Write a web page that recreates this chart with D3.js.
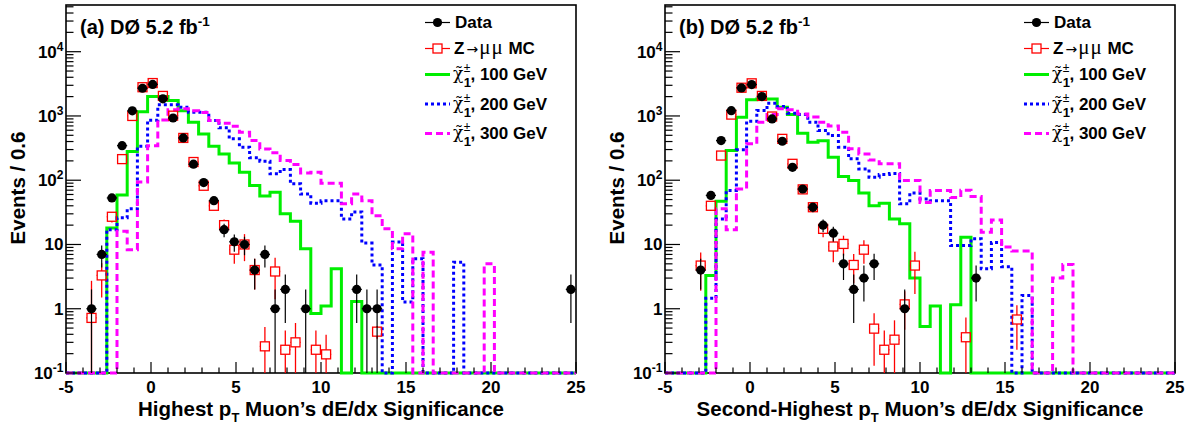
<!DOCTYPE html>
<html>
<head>
<meta charset="utf-8">
<script src="https://cdn.jsdelivr.net/npm/d3@7"></script>
<style>
  body { margin: 0; background: #fff; }
  text { font-family: "Liberation Sans", Arial, Helvetica, sans-serif; font-weight: bold; fill: #000; }
  tspan.sym, text.sym { font-family: "DejaVu Serif", "Liberation Serif", serif; font-weight: normal; }
</style>
</head>
<body>
<svg id="chart" width="1188" height="431"></svg>
<script>
// binning of both histograms
const xMin = -5, xMax = 25, binWidth = 0.6;
const yMin = 0.1, yMax = 53300;
const xTickValues = [-5, 0, 5, 10, 15, 20, 25];
const yDecades = [-1, 0, 1, 2, 3, 4];
const massLabels = ['100 GeV', '200 GeV', '300 GeV'];

// (a) highest pT muon -- signal histograms, 50 bins from -5
const greenA = [0, 0, 0, 0, 18, 59, 280, 1160, 2000, 2000,
  1740, 1200, 800, 525, 337, 257, 186, 133, 83, 57,
  65, 30, 23, 8.6, 0.84, 1.1, 4.2, 0, 1.3, 0,
  0, 0, 0, 0, 0, 0, 0, 0, 0, 0,
  0, 0, 0, 0, 0, 0, 0, 0, 0, 0];
const blueA = [0, 0, 0, 0, 17, 26, 36, 337, 860, 1490,
  1490, 1365, 1140, 1140, 850, 653, 440, 326, 223, 198,
  126, 147, 88, 61, 44, 48, 48, 25, 32, 10.5,
  4.8, 0, 10.9, 1.27, 6.0, 0, 0, 0, 5.3, 0,
  0, 0, 0, 0, 0, 0, 0, 0, 0, 0];
const magentaA = [0, 0, 0, 0, 0, 16, 8.3, 94, 345, 865,
  1250, 1290, 1200, 1130, 850, 770, 690, 558, 414, 307,
  268, 202, 175, 130, 133, 90, 90, 43, 61, 48,
  28, 17.5, 8.6, 14.7, 0, 7.6, 0, 0, 0, 0,
  0, 5.0, 0, 0, 0, 0, 0, 0, 0, 0];

// (a) data and Z->mumu MC points (bin centres)
const dataXa = [-3.5, -2.9, -2.3, -1.7, -1.1, -0.5, 0.1, 0.7, 1.3, 1.9, 2.5, 3.1, 3.7,
  4.3, 4.9, 5.5, 6.1, 6.7, 7.3, 7.9, 9.1, 12.1, 12.7, 13.3, 24.7];
const dataYa = [1, 7, 53, 345, 1200, 2700, 3100, 1850, 930, 455, 178, 92, 48,
  17, 11, 10, 4, 7, 1, 2, 1, 2, 1, 1, 2];
const dataEa = [1, 2.6, 7.3, 18.6, 34.6, 52, 55.7, 43, 30.5, 21.3, 13.3, 9.6, 6.9,
  4.1, 3.3, 3.2, 2, 2.6, 1, 1.4, 1, 1.4, 1, 1, 1.4];
const mcXa = [-3.5, -2.9, -2.3, -1.7, -1.1, -0.5, 0.1, 0.7, 1.3, 1.9, 2.5, 3.1, 3.7,
  4.3, 4.9, 5.5, 6.1, 6.7, 7.3, 7.9, 8.5, 9.7, 10.3, 13.3];
const mcYa = [0.72, 3.3, 27, 213, 1000, 2800, 3250, 2050, 1010, 455, 192, 82, 40,
  20, 8.3, 10, 4, 0.26, 3.8, 0.23, 0.30, 0.23, 0.195, 0.44];
const mcEa = [2.0, 1.8, 5, 14, 30, 50, 55, 45, 30, 20, 13, 9, 6,
  4.5, 3.3, 4.5, 2, 0.26, 2.4, 0.23, 0.3, 0.23, 0.2, 0.1];

// (b) second-highest pT muon -- signal histograms
const greenB = [0, 0, 0, 0, 3.3, 47, 290, 955, 1780, 1840,
  1840, 1365, 1050, 540, 390, 413, 228, 114, 99, 63,
  40, 44, 25, 21, 3.0, 0.53, 1.1, 0, 1.15, 13,
  0, 0, 0, 0, 0, 0, 0, 0, 0, 0,
  0, 0, 0, 0, 0, 0, 0, 0, 0, 0];
const blueB = [0, 0, 0, 0, 1.46, 25, 69, 297, 828, 1213,
  1577, 1400, 1100, 1050, 800, 593, 496, 326, 215, 150,
  111, 123, 127, 43, 63, 51, 48, 48, 9.6, 9.6,
  12.3, 4.2, 10.7, 4.5, 0, 1.6, 0, 0, 0, 0,
  0, 0, 0, 0, 0, 0, 0, 0, 0, 0];
const magentaB = [0, 0, 0, 0, 0, 36, 17, 73, 368, 800,
  1050, 1300, 1250, 1070, 960, 800, 700, 560, 308, 257,
  207, 180, 180, 99, 99, 45, 69, 69, 54, 70,
  56, 15.5, 24, 9.1, 7.9, 7.9, 0, 0, 3.0, 4.9,
  0, 0, 0, 0, 0, 0, 0, 0, 0, 0];

// (b) data and Z->mumu MC points
const dataXb = [-2.9, -2.3, -1.7, -1.1, -0.5, 0.1, 0.7, 1.3, 1.9, 2.5, 3.1, 3.7,
  4.3, 4.9, 5.5, 6.1, 6.7, 7.3, 9.1, 13.3];
const dataYb = [4, 58, 414, 1210, 2735, 3080, 2000, 900, 404, 159, 73, 38,
  20, 15, 5, 2, 3, 5, 1, 3];
const dataEb = [2, 7.6, 20.3, 34.8, 52.3, 55.5, 44.7, 30, 20.1, 12.6, 8.5, 6.2,
  4.5, 3.9, 2.2, 1.4, 1.7, 2.2, 1, 1.7];
const mcXb = [-2.9, -2.3, -1.7, -1.1, -0.5, 0.1, 0.7, 1.3, 1.9, 2.5, 3.1, 3.7,
  4.3, 4.9, 5.5, 6.1, 6.7, 7.3, 7.9, 8.5, 9.1, 9.7, 12.7, 15.7];
const mcYb = [4.7, 40, 242, 1050, 2750, 3220, 2050, 980, 440, 180, 72, 38,
  17.5, 9.3, 10.2, 4.8, 8.3, 0.49, 0.23, 0.33, 1.17, 4.7, 0.36, 0.68];
const mcEb = [2.8, 6.5, 16, 32, 52, 57, 45, 31, 21, 13, 8.5, 6,
  4.5, 4, 3.5, 2.3, 3.3, 0.36, 0.23, 0.33, 0.7, 3, 0.37, 0.45];

const svg = d3.select('#chart');
svg.append('rect').attr('width', 1188).attr('height', 431).attr('fill', '#fff');

const colGreen = '#00ee00', colBlue = '#0000ff', colMag = '#ff00ff', colRed = '#ff0000';
const legendRowY = [22.5, 48.5, 74.5, 104, 133.5];

function drawPanel(p) {
  const top = 5, bottom = 373, width = 510;
  const g = svg.append('g');
  const x = d3.scaleLinear().domain([xMin, xMax]).range([p.left, p.left + width]);
  const y = d3.scaleLog().domain([yMin, yMax]).range([bottom, top]);
  const yc = v => y(Math.max(v, yMin));

  // frame
  g.append('rect')
    .attr('x', p.left).attr('y', top)
    .attr('width', width).attr('height', bottom - top)
    .attr('fill', 'none').attr('stroke', '#000').attr('stroke-width', 1.6);

  const clipId = 'clip' + p.left;
  svg.append('clipPath').attr('id', clipId)
    .append('rect').attr('x', p.left).attr('y', top)
    .attr('width', width).attr('height', bottom - top + 2);

  // step histograms
  const edges = d3.range(p.green.length + 1).map(i => xMin + i * binWidth);
  const step = d3.line().x(d => x(d[0])).y(d => yc(d[1]));
  const hists = [
    { vals: p.green, col: colGreen, dash: null },
    { vals: p.blue, col: colBlue, dash: '3,3' },
    { vals: p.magenta, col: colMag, dash: '7,4' }
  ];
  const hg = g.append('g').attr('clip-path', `url(#${clipId})`);
  hists.forEach(h => {
    const pts = [];
    h.vals.forEach((v, i) => { pts.push([edges[i], v]); pts.push([edges[i + 1], v]); });
    hg.append('path')
      .attr('d', step(pts))
      .attr('fill', 'none')
      .attr('stroke', h.col)
      .attr('stroke-width', 3)
      .attr('stroke-dasharray', h.dash);
  });

  // ticks (inside the frame)
  const tg = g.append('g').attr('stroke', '#000').attr('stroke-width', 1.2);
  d3.range(xMin, xMax + 0.5, 1).forEach(v => {
    const major = xTickValues.includes(v);
    tg.append('line').attr('x1', x(v)).attr('x2', x(v))
      .attr('y1', bottom).attr('y2', bottom - (major ? 11 : 5.5));
  });
  yDecades.forEach(e => {
    const base = Math.pow(10, e);
    tg.append('line').attr('x1', p.left).attr('x2', p.left + 15)
      .attr('y1', y(base)).attr('y2', y(base));
    d3.range(2, 10).forEach(m => {
      const v = m * base;
      if (v > yMax) return;
      tg.append('line').attr('x1', p.left).attr('x2', p.left + 7.5)
        .attr('y1', y(v)).attr('y2', y(v));
    });
  });

  // x tick labels
  xTickValues.forEach(v => {
    g.append('text').attr('x', x(v)).attr('y', 393)
      .attr('text-anchor', 'middle').style('font-size', '17px').text(v);
  });
  // y tick labels
  yDecades.forEach(e => {
    const t = g.append('text').attr('x', p.left - 2.5).attr('y', y(Math.pow(10, e)) + 6)
      .attr('text-anchor', 'end').style('font-size', '17px');
    if (e === 0) t.text('1');
    else if (e === 1) t.text('10');
    else {
      t.append('tspan').text('10');
      t.append('tspan').attr('dy', -7).style('font-size', '12px').text(e);
    }
  });

  // axis titles
  g.append('text')
    .attr('transform', `translate(${p.left - 41},188) rotate(-90)`)
    .attr('text-anchor', 'middle').style('font-size', '20.5px')
    .text('Events / 0.6');
  const xt = g.append('text').attr('x', p.left + width / 2).attr('y', 416)
    .attr('text-anchor', 'middle').style('font-size', '20.5px');
  xt.append('tspan').text(p.titlePre + 'p');
  xt.append('tspan').attr('dy', 6).style('font-size', '13px').text('T');
  xt.append('tspan').attr('dy', -6).text(' Muon\u2019s dE/dx Significance');

  // panel tag
  const tag = g.append('text').attr('x', p.left + 14).attr('y', 34).style('font-size', '20px');
  tag.append('tspan').text(p.tag + ' D\u00d8 5.2 fb');
  tag.append('tspan').attr('dy', -8).style('font-size', '13.5px').text('-1');

  // MC points: open squares with error bars that stop at the marker
  const half = 4.5;
  const mg = g.append('g').attr('stroke', colRed).attr('stroke-width', 1.3).attr('fill', 'none');
  p.mcX.forEach((c, i) => {
    const v = p.mcY[i], e = p.mcE[i];
    const cx = x(c), cy = yc(v);
    const yHi = yc(v + e), yLo = v - e > yMin ? yc(v - e) : bottom;
    if (yHi < cy - half) mg.append('line').attr('x1', cx).attr('x2', cx).attr('y1', yHi).attr('y2', cy - half);
    if (yLo > cy + half) mg.append('line').attr('x1', cx).attr('x2', cx).attr('y1', cy + half).attr('y2', yLo);
    mg.append('line').attr('x1', x(c - binWidth / 2)).attr('x2', cx - half).attr('y1', cy).attr('y2', cy);
    mg.append('line').attr('x1', cx + half).attr('x2', x(c + binWidth / 2)).attr('y1', cy).attr('y2', cy);
    mg.append('rect').attr('x', cx - half).attr('y', cy - half)
      .attr('width', 2 * half).attr('height', 2 * half);
  });

  // data points
  const dg = g.append('g');
  p.dataX.forEach((c, i) => {
    const v = p.dataY[i], e = p.dataE[i];
    const cx = x(c), cy = yc(v);
    const yHi = yc(v + e), yLo = v - e > yMin ? yc(v - e) : bottom;
    dg.append('line').attr('x1', cx).attr('x2', cx).attr('y1', yHi).attr('y2', yLo)
      .attr('stroke', '#000').attr('stroke-width', 1.2);
    dg.append('line').attr('x1', x(c - binWidth / 2)).attr('x2', x(c + binWidth / 2))
      .attr('y1', cy).attr('y2', cy).attr('stroke', '#000').attr('stroke-width', 1.2);
    dg.append('circle').attr('cx', cx).attr('cy', cy).attr('r', 4.6).attr('fill', '#000');
  });

  // legend
  const lg = g.append('g');
  const lx0 = p.left + 359, lx1 = p.left + 384, lm = (lx0 + lx1) / 2, tx = p.left + 389;
  // Data
  let cy = legendRowY[0];
  lg.append('line').attr('x1', lx0).attr('x2', lx1).attr('y1', cy).attr('y2', cy)
    .attr('stroke', '#000').attr('stroke-width', 1.2);
  lg.append('circle').attr('cx', lm).attr('cy', cy).attr('r', 4.6).attr('fill', '#000');
  lg.append('text').attr('x', tx).attr('y', cy + 5.8).style('font-size', '17px').text('Data');
  // MC
  cy = legendRowY[1];
  lg.append('line').attr('x1', lx0).attr('x2', lm - half).attr('y1', cy).attr('y2', cy)
    .attr('stroke', colRed).attr('stroke-width', 1.2);
  lg.append('line').attr('x1', lm + half).attr('x2', lx1).attr('y1', cy).attr('y2', cy)
    .attr('stroke', colRed).attr('stroke-width', 1.2);
  lg.append('rect').attr('x', lm - half).attr('y', cy - half).attr('width', 2 * half).attr('height', 2 * half)
    .attr('fill', 'none').attr('stroke', colRed).attr('stroke-width', 1.3);
  const mt = lg.append('text').attr('x', tx - 1).attr('y', cy + 5.8).style('font-size', '17px');
  mt.append('tspan').text('Z');
  mt.append('tspan').attr('dx', 2).style('font-family', '"DejaVu Sans", sans-serif')
    .style('font-weight', 'normal').style('font-size', '14px').text('\u2192');
  mt.append('tspan').attr('dx', 1).style('font-family', '"Liberation Serif", serif')
    .style('font-weight', 'normal').style('font-size', '21px').style('letter-spacing', '1px').text('\u03bc\u03bc');
  mt.append('tspan').text(' MC');
  // signal entries: chargino symbol with tilde, subscript 1 and superscript ±
  const styles = [[colGreen, null], [colBlue, '3,3'], [colMag, '7,4']];
  massLabels.forEach((m, k) => {
    const ry = legendRowY[k + 2];
    lg.append('line').attr('x1', lx0).attr('x2', lx1).attr('y1', ry).attr('y2', ry)
      .attr('stroke', styles[k][0]).attr('stroke-width', 3).attr('stroke-dasharray', styles[k][1]);
    const t = lg.append('text').attr('x', tx - 2).attr('y', ry + 4.5);
    t.append('tspan').attr('class', 'sym').style('font-size', '17px').text('\u03c7\u0303');
    t.append('tspan').attr('dx', 0.5).attr('dy', 8).style('font-size', '13px').text('1');
    t.append('tspan').attr('dx', -7.2).attr('dy', -15).style('font-weight', 'normal')
      .style('font-size', '12px').text('\u00b1');
    t.append('tspan').attr('dy', 8.3).style('font-size', '17px').text(', ' + m);
  });
}

drawPanel({
  left: 66, tag: '(a)', titlePre: 'Highest ',
  green: greenA, blue: blueA, magenta: magentaA,
  dataX: dataXa, dataY: dataYa, dataE: dataEa,
  mcX: mcXa, mcY: mcYa, mcE: mcEa
});
drawPanel({
  left: 665, tag: '(b)', titlePre: 'Second-Highest ',
  green: greenB, blue: blueB, magenta: magentaB,
  dataX: dataXb, dataY: dataYb, dataE: dataEb,
  mcX: mcXb, mcY: mcYb, mcE: mcEb
});
</script>
</body>
</html>
